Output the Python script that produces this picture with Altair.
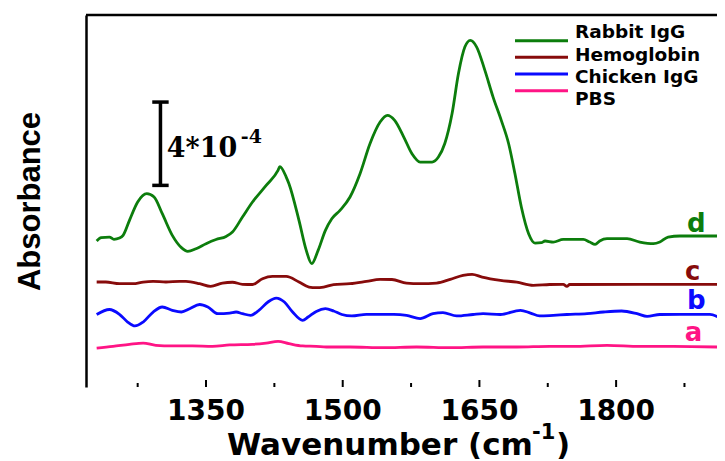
import altair as alt
import pandas as pd

# ---------------- data ----------------
series = ["Rabbit IgG", "Hemoglobin", "Chicken IgG", "PBS"]
colors = ["#0c7d0c", "#870b0b", "#0a0aff", "#ff1485"]
letters = ["d", "c", "b", "a"]

# wavenumber (cm-1) and offset absorbance (x 1e-4)
rabbit_w = [1230, 1235, 1244, 1249, 1255, 1259, 1266, 1275, 1285, 1293, 1302, 1313, 1323, 1330, 1339,
            1350, 1361, 1372, 1379, 1390, 1401, 1416, 1429, 1431, 1438, 1441, 1452, 1460, 1466, 1473,
            1481, 1488, 1497, 1508, 1519, 1530, 1541, 1549, 1557, 1567, 1576, 1585, 1598, 1605, 1612,
            1620, 1627, 1634, 1640, 1647, 1656, 1665, 1674, 1682, 1689, 1696, 1704, 1711, 1718, 1722,
            1731, 1742, 1764, 1771, 1777, 1782, 1790, 1812, 1826, 1841, 1848, 1857, 1870, 1912]
rabbit_v = [7.01, 7.17, 7.20, 7.09, 7.15, 7.28, 8.00, 8.88, 9.28, 9.12, 8.32, 7.28, 6.69, 6.51, 6.64,
            6.88, 7.08, 7.23, 7.44, 8.16, 8.88, 9.68, 10.40, 10.58, 10.08, 9.76, 8.00, 6.56, 5.92, 6.56,
            7.52, 8.08, 8.48, 9.12, 10.24, 11.69, 12.72, 13.04, 12.80, 12.00, 11.20, 10.80, 10.80, 11.04, 11.69,
            13.13, 15.05, 16.32, 16.64, 16.32, 15.20, 13.92, 12.80, 11.69, 10.24, 8.64, 7.36, 6.91, 6.93, 7.01,
            6.96, 7.09, 7.09, 6.96, 6.85, 7.01, 7.12, 7.12, 6.96, 6.88, 6.96, 7.20, 7.25, 7.25]

hemo_w = [1230, 1240, 1255, 1270, 1281, 1292, 1306, 1321, 1328, 1343, 1355, 1368, 1379, 1390, 1401,
          1412, 1423, 1438, 1452, 1463, 1471, 1479, 1490, 1508, 1526, 1541, 1554, 1570, 1585, 1603,
          1618, 1632, 1642, 1653, 1673, 1691, 1709, 1727, 1742, 1746, 1749, 1912]
hemo_v = [5.04, 5.04, 4.96, 4.96, 5.04, 5.07, 5.04, 5.07, 5.07, 4.96, 4.83, 4.99, 5.03, 4.93, 4.92,
          5.20, 5.31, 5.31, 5.04, 4.80, 4.77, 4.80, 4.92, 4.96, 5.07, 5.17, 5.16, 4.99, 4.96, 4.99,
          5.17, 5.36, 5.41, 5.28, 5.12, 5.03, 4.88, 4.92, 4.93, 4.83, 4.92, 4.93]

chick_w = [1230, 1244, 1255, 1264, 1272, 1281, 1292, 1302, 1313, 1323, 1332, 1343, 1352, 1363, 1376,
           1383, 1390, 1399, 1408, 1418, 1427, 1436, 1445, 1456, 1462, 1471, 1481, 1490, 1499, 1510,
           1526, 1556, 1570, 1585, 1599, 1610, 1625, 1643, 1654, 1673, 1695, 1706, 1716, 1731, 1746,
           1768, 1786, 1806, 1823, 1834, 1848, 1870, 1903, 1912]
chick_v = [3.48, 3.72, 3.49, 3.12, 2.93, 3.12, 3.60, 3.84, 3.68, 3.60, 3.76, 3.96, 3.84, 3.52, 3.55,
           3.60, 3.52, 3.44, 3.68, 4.08, 4.27, 4.08, 3.60, 3.20, 3.36, 3.63, 3.76, 3.65, 3.48, 3.41,
           3.49, 3.49, 3.44, 3.28, 3.52, 3.57, 3.41, 3.48, 3.52, 3.48, 3.68, 3.55, 3.41, 3.44, 3.48,
           3.52, 3.60, 3.65, 3.52, 3.39, 3.48, 3.49, 3.49, 3.36]

pbs_w = [1230, 1248, 1266, 1281, 1295, 1313, 1335, 1357, 1376, 1401, 1416, 1429, 1441, 1456, 1471,
         1482, 1508, 1545, 1581, 1618, 1654, 1691, 1727, 1753, 1790, 1826, 1863, 1912]
pbs_v = [1.87, 1.95, 2.05, 2.11, 2.00, 1.97, 1.97, 1.95, 2.02, 2.05, 2.11, 2.19, 2.08, 1.97, 1.95,
         1.92, 1.92, 1.89, 1.92, 1.89, 1.92, 1.92, 1.95, 1.95, 2.00, 1.95, 1.95, 1.92]

# curve letters
letter_w = [1888, 1884, 1888, 1885]
letter_v = [7.43, 5.12, 3.74, 2.19]

# x axis ticks
major_ticks = [1350, 1500, 1650, 1800]
major_labels = ["1350", "1500", "1650", "1800"]
minor_ticks = [1275, 1425, 1575, 1725, 1875]

# scale bar (4 x 1e-4 absorbance)
bar_w = 1300
bar_lo = 9.68
bar_hi = 13.68
bar_cap = [1291, 1309]
bar_text = "4*10"
bar_exp = "-4"

# ---------------- build tables ----------------
frames = []
for name, ws, vs in [("Rabbit IgG", rabbit_w, rabbit_v), ("Hemoglobin", hemo_w, hemo_v),
                     ("Chicken IgG", chick_w, chick_v), ("PBS", pbs_w, pbs_v)]:
    frames.append(pd.DataFrame({"w": ws, "v": vs, "series": name}))
df = pd.concat(frames, ignore_index=True)

letters_df = pd.DataFrame({"w": letter_w, "v": letter_v, "t": letters, "series": series})
major_df = pd.DataFrame({"w": major_ticks, "lab": major_labels})
minor_df = pd.DataFrame({"w": minor_ticks})
bar_df = pd.DataFrame({"w": [bar_w], "v": [bar_lo], "v2": [bar_hi]})
cap_df = pd.DataFrame({"w": [bar_cap[0]] * 2, "w2": [bar_cap[1]] * 2, "v": [bar_lo, bar_hi]})
bartxt_df = pd.DataFrame({"w": [bar_w + 7], "v": [11.04], "t": [bar_text], "e": [bar_exp]})
legend_df = pd.DataFrame({"series": series})

W, H = 631, 372
xscale = alt.Scale(domain=[1218.3, 1910.7], nice=False, zero=False)
yscale = alt.Scale(domain=[0, 17.86], nice=False, zero=False)
cscale = alt.Scale(domain=series, range=colors)

SANS = "DejaVu Sans"

lines = alt.Chart(df).mark_line(strokeWidth=2.8, interpolate="monotone", clip=False).encode(
    x=alt.X("w:Q", scale=xscale,
            axis=alt.Axis(title=None, labels=False, ticks=False, grid=False,
                          domainColor="black", domainWidth=2.5)),
    y=alt.Y("v:Q", scale=yscale,
            axis=alt.Axis(title="Absorbance", labels=False, ticks=False, grid=False,
                          domainColor="black", domainWidth=2.5,
                          titleFont="Liberation Sans", titleFontSize=31, titleFontWeight="bold",
                          titleColor="black", titlePadding=40)),
    color=alt.Color("series:N", scale=cscale, legend=None),
)

major = alt.Chart(major_df).mark_rule(color="black", strokeWidth=2).encode(
    x=alt.X("w:Q", scale=xscale, axis=None), y=alt.value(H), y2=alt.value(H - 7))
minor = alt.Chart(minor_df).mark_rule(color="black", strokeWidth=2).encode(
    x=alt.X("w:Q", scale=xscale, axis=None), y=alt.value(H), y2=alt.value(H - 4))
tick_labels = alt.Chart(major_df).mark_text(font=SANS, fontSize=28, fontWeight="bold",
                                            align="center", baseline="alphabetic", color="black").encode(
    x=alt.X("w:Q", scale=xscale, axis=None), y=alt.value(H + 33), text="lab:N")

top_rule = alt.Chart(pd.DataFrame({"k": [0]})).mark_rule(color="black", strokeWidth=2.5).encode(
    x=alt.value(0), x2=alt.value(W), y=alt.value(0))

bar = alt.Chart(bar_df).mark_rule(color="black", strokeWidth=3.5).encode(
    x=alt.X("w:Q", scale=xscale, axis=None),
    y=alt.Y("v:Q", scale=yscale, axis=None), y2="v2:Q")
caps = alt.Chart(cap_df).mark_rule(color="black", strokeWidth=3.5).encode(
    x=alt.X("w:Q", scale=xscale, axis=None), x2="w2:Q",
    y=alt.Y("v:Q", scale=yscale, axis=None))
bartxt = alt.Chart(bartxt_df).mark_text(font="DejaVu Serif", fontSize=27, fontWeight="bold",
                                        align="left", baseline="alphabetic", color="black").encode(
    x=alt.X("w:Q", scale=xscale, axis=None), y=alt.Y("v:Q", scale=yscale, axis=None), text="t:N")
barexp = alt.Chart(bartxt_df).mark_text(font="DejaVu Serif", fontSize=19, fontWeight="bold",
                                        align="left", baseline="alphabetic", color="black",
                                        dx=74, dy=-14).encode(
    x=alt.X("w:Q", scale=xscale, axis=None), y=alt.Y("v:Q", scale=yscale, axis=None), text="e:N")

letter_marks = alt.Chart(letters_df).mark_text(font=SANS, fontSize=26, fontWeight="bold",
                                               align="center", baseline="alphabetic").encode(
    x=alt.X("w:Q", scale=xscale, axis=None), y=alt.Y("v:Q", scale=yscale, axis=None),
    text="t:N", color=alt.Color("series:N", scale=cscale, legend=None))

# x-axis title with a real superscript
xt1 = alt.Chart(pd.DataFrame({"t": ["Wavenumber (cm"]})).mark_text(
    font=SANS, fontSize=31, fontWeight="bold", align="left", baseline="alphabetic", color="black").encode(
    x=alt.value(141), y=alt.value(440), text="t:N")
xt2 = alt.Chart(pd.DataFrame({"t": ["-1"]})).mark_text(
    font=SANS, fontSize=21, fontWeight="bold", align="left", baseline="alphabetic", color="black").encode(
    x=alt.value(446), y=alt.value(424), text="t:N")
xt3 = alt.Chart(pd.DataFrame({"t": [")"]})).mark_text(
    font=SANS, fontSize=31, fontWeight="bold", align="left", baseline="alphabetic", color="black").encode(
    x=alt.value(470), y=alt.value(440), text="t:N")

# legend (manual, inside the plot)
ly = alt.Y("series:N", scale=alt.Scale(domain=series, range=[17.3, 84], padding=0), axis=None)
leg_lines = alt.Chart(legend_df).mark_rule(strokeWidth=3).encode(
    x=alt.value(429), x2=alt.value(482), y=ly,
    color=alt.Color("series:N", scale=cscale, legend=None))
leg_text = alt.Chart(legend_df).mark_text(font=SANS, fontSize=18.5, fontWeight="bold",
                                          align="left", baseline="middle", color="black").encode(
    x=alt.value(489), y=ly, text="series:N")

chart = alt.layer(
    lines, major, minor, tick_labels, top_rule, bar, caps, bartxt, barexp, letter_marks,
    xt1, xt2, xt3, leg_lines, leg_text
).resolve_scale(y="independent").properties(
    width=W, height=H,
    autosize=alt.AutoSizeParams(type="none"),
    padding={"left": 78, "top": 7, "right": 0, "bottom": 79},
    background="white",
).configure_view(stroke=None)

chart.save("out.html", embed_options={"renderer": "svg", "actions": False})
